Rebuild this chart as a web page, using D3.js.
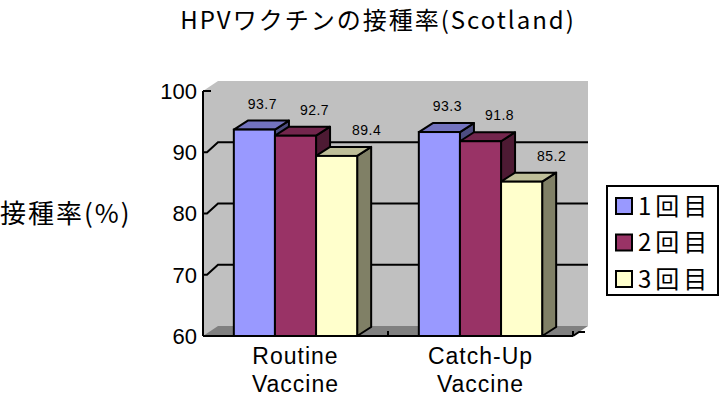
<!DOCTYPE html>
<html lang="ja">
<head>
  <meta charset="UTF-8">
  <title>HPVワクチンの接種率（Scotland）</title>
  <script src="https://d3js.org/d3.v7.min.js"></script>
  <style>
    body {
      margin: 0;
      background: #ffffff;
    }

    svg {
      display: block;
    }

    .latin {
      font-family: "Liberation Sans", Arial, sans-serif;
      fill: #000000;
    }

    .jp {
      font-family: "Noto Sans CJK JP", sans-serif;
      fill: #000000;
    }
  </style>
</head>

<body>
  <div id="chart"></div>

  <script>
    // data
    const categories = ["Routine Vaccine", "Catch-Up Vaccine"];
    const categoryLines = [["Routine", "Vaccine"], ["Catch-Up", "Vaccine"]];
    const seriesNames = ["1回目", "2回目", "3回目"];
    const dose1 = [93.7, 93.3];
    const dose2 = [92.7, 91.8];
    const dose3 = [89.4, 85.2];
    const yTicks = [60, 70, 80, 90, 100];

    const seriesValues = [dose1, dose2, dose3];

    // front / top / side colours for each series
    const frontColors = ["#9999ff", "#993366", "#ffffcc"];
    const topColors = ["#7373bf", "#73264d", "#bfbf99"];
    const sideColors = ["#4d4d80", "#4d1a33", "#808066"];

    const width = 720,
          height = 397;

    const left = 203,
          right = 573,
          wallDx = 15,
          wallDy = -10,
          barDx = 14,
          barDy = -9;

    const svg = d3.select("#chart")
      .append("svg")
      .attr("width", width)
      .attr("height", height);

    const y = d3.scaleLinear()
      .domain([60, 100])
      .range([336, 91]);

    const x0 = d3.scaleBand()
      .domain(categories)
      .range([left, right])
      .paddingInner(1 / 3)
      .paddingOuter(1 / 6);

    const x1 = d3.scaleBand()
      .domain(d3.range(seriesNames.length))
      .range([0, x0.bandwidth()]);

    const yTop = y(100),
          yBottom = y(60);

    // walls
    const walls = svg.append("g").attr("class", "walls");

    walls.append("path")
      .attr("d", `M${left},${yTop} L${left + wallDx},${yTop + wallDy} L${right + wallDx},${yTop + wallDy}
        L${right + wallDx},${yBottom + wallDy} L${left},${yBottom} Z`)
      .attr("fill", "#c0c0c0");

    walls.append("path")
      .attr("d", `M${left},${yBottom} L${left + wallDx},${yBottom + wallDy} L${right + wallDx},${yBottom + wallDy}
        L${right},${yBottom} Z`)
      .attr("fill", "#808080");

    // gridlines on the back and side wall
    const grid = svg.append("g").attr("class", "grid");

    grid.selectAll("path")
      .data(yTicks.filter(d => d > 60 && d < 100))
      .enter().append("path")
      .attr("d", d => `M${left},${y(d)} h4 L${left + wallDx},${y(d) + wallDy} H${right + wallDx}`)
      .attr("fill", "none")
      .attr("stroke", "#000")
      .attr("stroke-width", 2);

    grid.append("path")
      .attr("d", `M${left},${yTop} h8`)
      .attr("stroke", "#000")
      .attr("stroke-width", 2);

    // floor tick marks at the category boundaries
    grid.selectAll("line.xtick")
      .data(categories)
      .enter().append("line")
      .attr("class", "xtick")
      .attr("x1", d => x0(d) + x0.bandwidth() + x0.step() * x0.paddingInner() / 2)
      .attr("x2", d => x0(d) + x0.bandwidth() + x0.step() * x0.paddingInner() / 2)
      .attr("y1", yBottom)
      .attr("y2", yBottom - 5)
      .attr("stroke", "#000")
      .attr("stroke-width", 2);

    grid.append("path")
      .attr("d", `M${right},${yBottom} L${right + 6},${yBottom - 4} h6`)
      .attr("fill", "none")
      .attr("stroke", "#000")
      .attr("stroke-width", 2);

    // bars
    const bars = svg.append("g").attr("class", "bars");

    categories.forEach((cat, ci) => {
      seriesValues.forEach((vals, si) => {
        const v = vals[ci];
        const bx = x0(cat) + x1(si);
        const bw = x1.bandwidth();
        const by = y(v);
        const g = bars.append("g");

        g.append("path")
          .attr("d", `M${bx + bw},${by} L${bx + bw + barDx},${by + barDy} L${bx + bw + barDx},${yBottom + barDy}
            L${bx + bw},${yBottom} Z`)
          .attr("fill", sideColors[si])
          .attr("stroke", "#000")
          .attr("stroke-width", 2)
          .attr("stroke-linejoin", "round");

        g.append("path")
          .attr("d", `M${bx},${by} L${bx + barDx},${by + barDy} L${bx + bw + barDx},${by + barDy} L${bx + bw},${by} Z`)
          .attr("fill", topColors[si])
          .attr("stroke", "#000")
          .attr("stroke-width", 2)
          .attr("stroke-linejoin", "round");

        g.append("rect")
          .attr("x", bx)
          .attr("y", by)
          .attr("width", bw)
          .attr("height", yBottom - by)
          .attr("fill", frontColors[si])
          .attr("stroke", "#000")
          .attr("stroke-width", 2);
      });
    });

    // value labels
    const labels = svg.append("g").attr("class", "latin");

    categories.forEach((cat, ci) => {
      seriesValues.forEach((vals, si) => {
        labels.append("text")
          .attr("x", x0(cat) + x1(si) + x1.bandwidth() / 2 + 8 + si * 11)
          .attr("y", y(vals[ci]) - 21)
          .attr("text-anchor", "middle")
          .style("font-size", "14px")
          .style("letter-spacing", "0.5px")
          .text(d3.format(".1f")(vals[ci]));
      });
    });

    // axes lines
    svg.append("line")
      .attr("x1", left).attr("x2", left)
      .attr("y1", yTop).attr("y2", yBottom)
      .attr("stroke", "#000")
      .attr("stroke-width", 2);

    svg.append("line")
      .attr("x1", left).attr("x2", right)
      .attr("y1", yBottom).attr("y2", yBottom)
      .attr("stroke", "#000")
      .attr("stroke-width", 2);

    // y tick labels
    svg.append("g")
      .attr("class", "latin")
      .selectAll("text")
      .data(yTicks)
      .enter().append("text")
      .attr("x", left - 6)
      .attr("y", d => y(d))
      .attr("dy", "0.36em")
      .attr("text-anchor", "end")
      .style("font-size", "22px")
      .text(d => d);

    // category labels
    const catLabels = svg.append("g")
      .attr("class", "latin")
      .selectAll("text")
      .data(categories)
      .enter().append("text")
      .attr("text-anchor", "middle")
      .style("font-size", "23px")
      .style("letter-spacing", "1px");

    catLabels.selectAll("tspan")
      .data((d, i) => categoryLines[i].map(line => ({ line, cat: d })))
      .enter().append("tspan")
      .attr("x", d => x0(d.cat) + x0.bandwidth() / 2)
      .attr("y", (d, i) => 364 + i * 28)
      .text(d => d.line);

    // title
    svg.append("text")
      .attr("class", "jp")
      .attr("x", 378)
      .attr("y", 29)
      .attr("text-anchor", "middle")
      .style("font-size", "24px")
      .style("letter-spacing", "2px")
      .text("HPVワクチンの接種率(Scotland)");

    // y axis title
    svg.append("text")
      .attr("class", "jp")
      .attr("x", 0)
      .attr("y", 223)
      .style("font-size", "26px")
      .style("letter-spacing", "2px")
      .text("接種率(%)");

    // legend
    const legend = svg.append("g")
      .attr("transform", "translate(607,186)");

    legend.append("rect")
      .attr("width", 111)
      .attr("height", 109)
      .attr("fill", "#fff")
      .attr("stroke", "#000")
      .attr("stroke-width", 2);

    const items = legend.selectAll("g.item")
      .data(seriesNames)
      .enter().append("g")
      .attr("class", "item")
      .attr("transform", (d, i) => `translate(9,${20 + i * 36.5})`);

    items.append("rect")
      .attr("x", 0)
      .attr("y", -8)
      .attr("width", 16)
      .attr("height", 16)
      .attr("fill", (d, i) => frontColors[i])
      .attr("stroke", "#000")
      .attr("stroke-width", 2);

    items.append("text")
      .attr("class", "jp")
      .attr("x", 22)
      .attr("y", 0)
      .attr("dy", "0.36em")
      .style("font-size", "24px")
      .style("letter-spacing", "4px")
      .text(d => d);
  </script>
</body>
</html>
